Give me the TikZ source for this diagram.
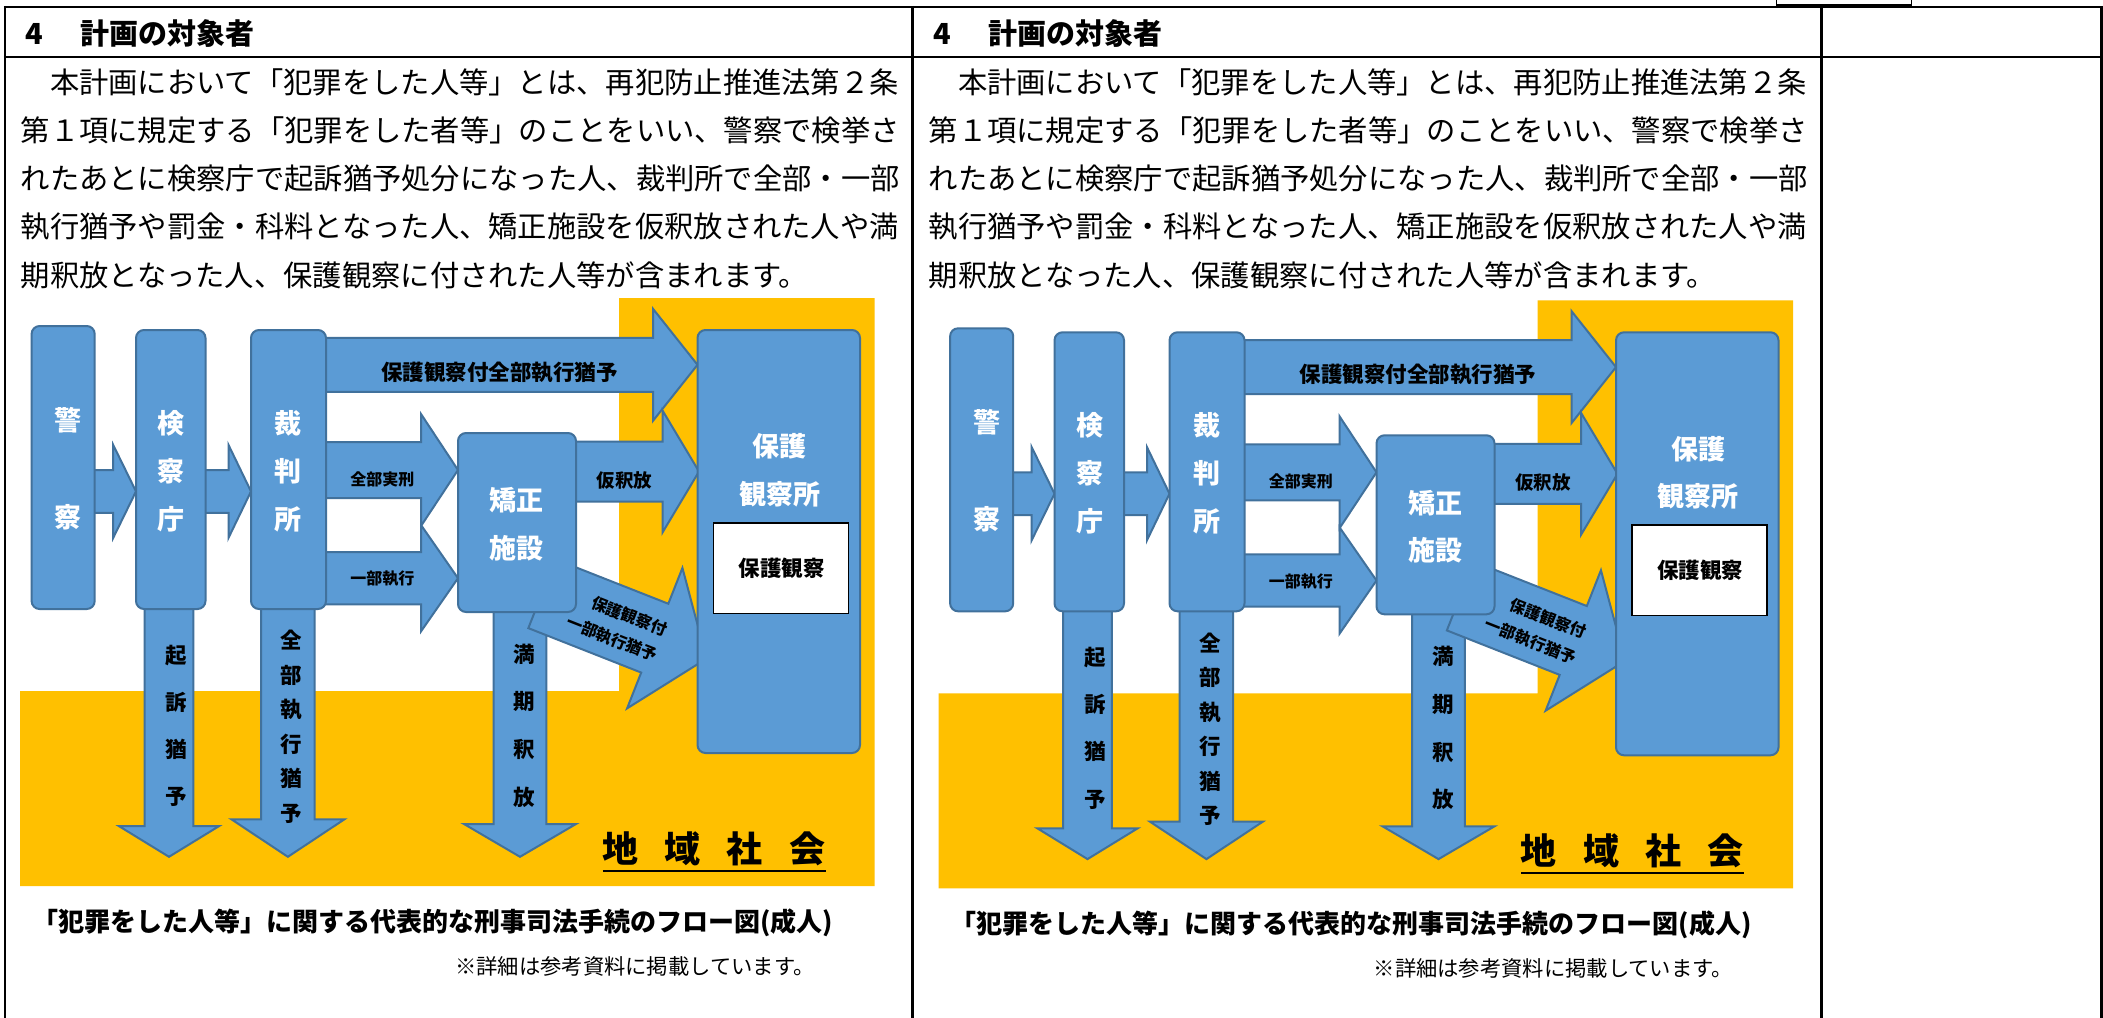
\documentclass[tikz,border=0pt]{standalone}
\usepackage{fontspec}
\newfontfamily\jp{Noto Sans CJK JP}
\definecolor{boxblue}{HTML}{5B9BD5}
\definecolor{boxline}{HTML}{41719C}
\definecolor{commyellow}{HTML}{FFC000}
\tikzset{
  tline/.style={line width=2.2pt},
  blk/.style={fill=boxblue, draw=boxline, line width=2pt, line join=miter},
  stage/.style={rectangle, fill=boxblue, draw=boxline, line width=2pt, rounded corners=8pt, inner sep=0pt},
  wlab/.style={text=white, inner sep=0pt, align=center, font=\jp\bfseries\fontsize{27}{#1}\selectfont},
  blab/.style={text=black, inner sep=0pt, font=\jp\bfseries\fontsize{#1}{#1}\selectfont},
  vlab/.style={text=black, inner sep=0pt, align=center, font=\jp\bfseries\fontsize{21.5}{#1}\selectfont},
  bod/.style={inner sep=0pt, anchor=west, font=\jp\fontsize{29.3}{29.3}\selectfont},
  hdr/.style={inner sep=0pt, anchor=west, font=\jp\bfseries\fontsize{29}{29}\selectfont},
}
% horizontal block arrow: x0, head start, tip, centre y, shaft half, head half
\newcommand\harrow[6]{%
  \path[blk] ({#1},{#4-#5}) -- ({#2},{#4-#5}) -- ({#2},{#4-#6}) -- ({#3},{#4})
    -- ({#2},{#4+#6}) -- ({#2},{#4+#5}) -- ({#1},{#4+#5}) -- cycle;}
% vertical block arrow: centre x, y0, head start, tip, shaft half, head half
\newcommand\varrow[6]{%
  \path[blk] ({#1-#5},{#2}) -- ({#1-#5},{#3}) -- ({#1-#6},{#3}) -- ({#1},{#4})
    -- ({#1+#6},{#3}) -- ({#1+#5},{#3}) -- ({#1+#5},{#2}) -- cycle;}
\newcommand\bodytext{%
  \node[hdr] (hd) at (25,33.5) {\makebox[55.5pt][l]{4}計画の対象者};
  \node[bod] (t1) at (20.5,82.7) {　本計画において「犯罪をした人等」とは、再犯防止推進法第２条};
  \node[bod] (t2) at (20.5,130.8) {第１項に規定する「犯罪をした者等」のことをいい、警察で検挙さ};
  \node[bod] (t3) at (20.5,178.9) {れたあとに検察庁で起訴猶予処分になった人、裁判所で全部・一部};
  \node[bod] (t4) at (20.5,227.0) {執行猶予や罰金・科料となった人、矯正施設を仮釈放された人や満};
  \node[bod] (t5) at (20.5,275.1) {期釈放となった人、保護観察に付された人等が含まれます。};
}
\newcommand\flowdiagram{%
  % community background
  \fill[commyellow] (20,691) -- (619,691) -- (619,298) -- (874.5,298) -- (874.5,886) -- (20,886) -- cycle;
  % downward arrows
  \varrow{169}{600}{826}{856.8}{24.4}{50.2}
  \varrow{287.9}{600}{819.3}{856.8}{26.8}{56.5}
  \varrow{520}{600}{824}{856.8}{26.4}{56}
  % rightward arrows
  \harrow{85}{113.2}{136}{491.4}{21.4}{46.5}
  \harrow{195}{228.5}{251}{491.4}{21.4}{46.5}
  \harrow{316}{653}{697.5}{364.8}{27}{56}
  \harrow{316}{421}{458}{470}{28}{56}
  \harrow{316}{421}{458}{578.2}{26.2}{53.2}
  \harrow{566}{662.5}{699}{471.5}{30}{61}
  \begin{scope}[shift={(541.9,593.7)}, rotate=-21.5]
    \harrow{0}{121.3}{177}{0}{37}{75.5}
  \end{scope}
  % stages
  \node[stage, minimum width=63.1pt, minimum height=283pt] (police) at (63.15,467.5) {};
  \node[stage, minimum width=69.5pt, minimum height=279pt] (prosecutor) at (170.75,469.5) {};
  \node[stage, minimum width=75pt, minimum height=279pt] (court) at (288.5,469.5) {};
  \node[stage, minimum width=118pt, minimum height=179pt] (prison) at (517,522.5) {};
  \node[stage, minimum width=162.5pt, minimum height=423pt] (probation) at (778.75,541.5) {};
  \node[rectangle, fill=white, draw=black, line width=1.5pt, minimum width=135pt, minimum height=90.5pt, inner sep=0pt] (pbox) at (781,568) {};
  % stage labels
  \node[wlab=96.4] (lpolice) at (68,468.5) {警\\察};
  \node[wlab=48] (lpros) at (171,471.2) {検\\察\\庁};
  \node[wlab=48] (lcourt) at (288,471.2) {裁\\判\\所};
  \node[wlab=47.6] (lprison) at (516.7,524.5) {矯正\\施設};
  \node[wlab=47.3] (lprob) at (779.6,470.3) {保護\\観察所};
  \node[blab=21.5] (lpbox) at (781.5,568.3) {保護観察};
  % arrow labels
  \node[blab=21.5] (a1) at (499.5,372.7) {保護観察付全部執行猶予};
  \node[blab=16] (a2) at (382.3,479) {全部実刑};
  \node[blab=16] (a3) at (382.3,579) {一部執行};
  \node[blab=18.5] (a4) at (624.3,480) {仮釈放};
  \node[text=black, inner sep=0pt, align=right, rotate=-21.5, font=\jp\bfseries\fontsize{16}{27}\selectfont] (a5) at (617,626) {保護観察付\\一部執行猶予};
  \node[vlab=47.2] (d1) at (176.5,725.9) {起\\訴\\猶\\予};
  \node[vlab=34.5] (d2) at (291.6,727) {全\\部\\執\\行\\猶\\予};
  \node[vlab=47.8] (d3) at (524.4,725.7) {満\\期\\釈\\放};
  % community
  \node[blab=36] (comm) at (713.8,849) {地\hspace{26.3pt}域\hspace{26.3pt}社\hspace{26.3pt}会};
  \draw[line width=2.3pt] (602.8,870.7) -- (825.5,870.7);
  % captions
  \node[blab=26, anchor=west] (cap) at (32,923) {「犯罪をした人等」に関する代表的な刑事司法手続のフロー図(成人)};
  \node[inner sep=0pt, anchor=west, font=\jp\fontsize{21.3}{21.3}\selectfont] (note) at (455,966) {※詳細は参考資料に掲載しています。};
}
\begin{document}
\begin{tikzpicture}[x=1pt,y=-1pt]
\useasboundingbox (0,0) rectangle (2103,1017);
\fill[white] (0,0) rectangle (2103,1017);
% table frame
\draw[line width=1.5pt] (1776.5,-2) -- (1776.5,5) -- (1911.7,5) -- (1911.7,-2);
\draw[tline] (3.9,7) -- (2102.6,7);
\draw[tline] (3.9,57) -- (2102.6,57);
\draw[tline] (5,5.9) -- (5,1020);
\draw[tline] (912.5,5.9) -- (912.5,1020);
\draw[tline] (1821.5,5.9) -- (1821.5,1020);
\draw[tline] (2101.5,5.9) -- (2101.5,1020);
\begin{scope}[name prefix=L-]
  \bodytext
  \flowdiagram
\end{scope}
\begin{scope}[name prefix=R-, shift={(908,0)}]
  \bodytext
\end{scope}
\begin{scope}[name prefix=R-, shift={(918.5,2.3)}]
  \flowdiagram
\end{scope}
\end{tikzpicture}
\end{document}
